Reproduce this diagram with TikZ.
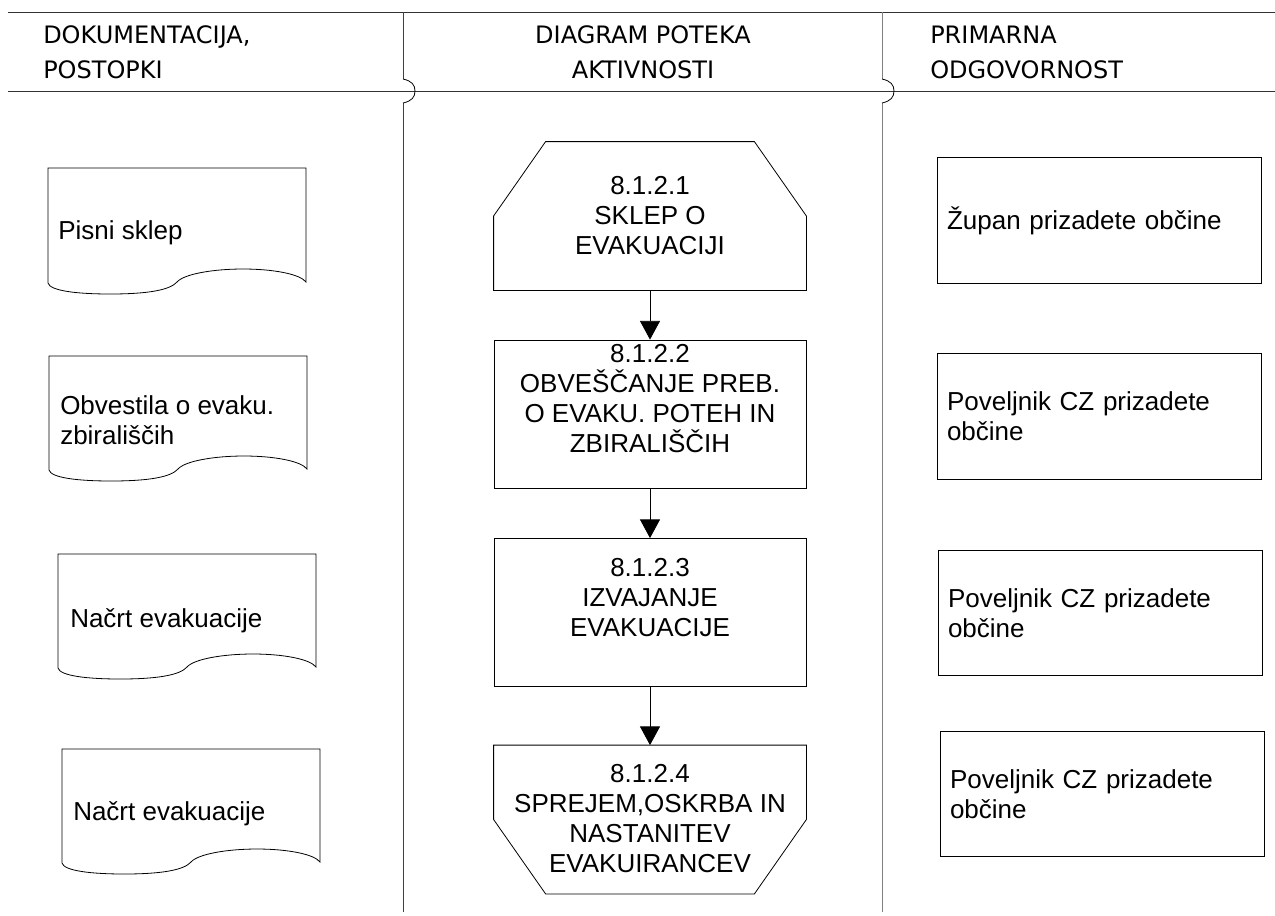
\documentclass[tikz,border=0pt]{standalone}
\usepackage{fontspec}
\setmainfont{Liberation Sans}
\newfontfamily\headfont{DejaVu Sans}
\usetikzlibrary{arrows.meta,calc}

\begin{document}
\begin{tikzpicture}[x=0.75pt, y=-0.75pt, >={Triangle[length=14pt, width=15pt]},
  every node/.style={inner sep=0pt, font=\fontsize{19.5}{22.5}\selectfont},
  head text/.style={font=\headfont\fontsize{18}{26.25}\selectfont},
  flow box/.style={minimum width=234pt, minimum height=111pt, line width=0.6pt},
  resp box/.style={draw, line width=0.6pt, minimum height=94pt, text width=228pt, inner xsep=7.5pt, align=left},
  thin line/.style={line width=0.6pt}]

\useasboundingbox (0,0) rectangle (1275,915);

% header
\draw [thin line, black!80] (8,12) -- (1275,12);
\draw [thin line, black!80] (8,91) -- (1275,91);
\draw [thin line, black!75] (403,12) -- (403,79);
\draw [thin line, black!75] (403,103) -- (403,912);
\draw [thin line] (403,79) .. controls (412,81) and (415,85) .. (415,91)
  .. controls (415,97) and (412,101) .. (403,103);
\draw [thin line, black!50] (882,12) -- (882,79);
\draw [thin line, black!50] (882,103) -- (882,912);
\draw [thin line] (882,79) .. controls (891,81) and (894,85) .. (894,91)
  .. controls (894,97) and (891,101) .. (882,103);

\node [head text, align=left, anchor=west] (head-doc) at (43,52.5) {DOKUMENTACIJA,\\POSTOPKI};
\node [head text, align=center] (head-flow) at (643,52.5) {DIAGRAM POTEKA\\AKTIVNOSTI};
\node [head text, align=left, anchor=west] (head-resp) at (930,52.5) {PRIMARNA\\ODGOVORNOST};

% documents
\foreach \l/\t/\b in {48/168/283, 49/356/470, 58/554/668, 62/749/863}
  \draw [thin line] (\l,\b) -- (\l,\t) -- ({\l+258},\t) -- ({\l+258},{\b-1})
    .. controls ({\l+252},{\b-9}) and ({\l+225},{\b-14}) .. ({\l+195},{\b-14})
    .. controls ({\l+165},{\b-14}) and ({\l+136},{\b-9}) .. ({\l+129},{\b-1})
    .. controls ({\l+122},{\b+7}) and ({\l+100},{\b+11}) .. ({\l+62},{\b+11})
    .. controls ({\l+30},{\b+11}) and ({\l+2},{\b+8}) .. cycle;

\node [anchor=west, align=left] (doc-1) at (58,232.5) {Pisni sklep};
\node [anchor=west, align=left] (doc-2) at (60,420) {Obvestila o evaku.\\zbirališčih};
\node [anchor=west, align=left] (doc-3) at (70,620.5) {Načrt evakuacije};
\node [anchor=west, align=left] (doc-4) at (73,813.5) {Načrt evakuacije};

% activities
\node [flow box] (act-1) at (650,216) {};
\node [flow box, draw] (act-2) at (650,414) {};
\node [flow box, draw] (act-3) at (650,612.5) {};
\node [flow box] (act-4) at (650,819.5) {};

\draw [thin line] (act-1.south west) -- (act-1.west) -- ($(act-1.north west)+(52,0)$)
  -- ($(act-1.north east)+(-52,0)$) -- (act-1.east) -- (act-1.south east) -- cycle;
\draw [thin line] (act-4.north west) -- (act-4.west) -- ($(act-4.south west)+(52,0)$)
  -- ($(act-4.south east)+(-52,0)$) -- (act-4.east) -- (act-4.north east) -- cycle;

\node [align=center] (act-text-1) at (650,215.5) {8.1.2.1\\SKLEP O\\EVAKUACIJI};
\node [align=center] (act-text-2) at (650,398.5) {8.1.2.2\\OBVEŠČANJE PREB.\\O EVAKU. POTEH IN\\ZBIRALIŠČIH};
\node [align=center] (act-text-3) at (650,598) {8.1.2.3\\IZVAJANJE\\EVAKUACIJE};
\node [align=center] (act-text-4) at (650,819) {8.1.2.4\\SPREJEM,OSKRBA IN\\NASTANITEV\\EVAKUIRANCEV};

% connections
\foreach \i [evaluate=\i as \j using int(\i+1)] in {1,2,3}
  \draw [->, thin line] (act-\i) -- (act-\j);

% responsibility
\node [resp box] (resp-1) at (1099,220.5) {Župan prizadete občine};
\node [resp box] (resp-2) at (1099,416.5) {Poveljnik CZ prizadete\\občine};
\node [resp box] (resp-3) at (1100,613) {Poveljnik CZ prizadete\\občine};
\node [resp box] (resp-4) at (1102,794) {Poveljnik CZ prizadete\\občine};

\end{tikzpicture}
\end{document}
